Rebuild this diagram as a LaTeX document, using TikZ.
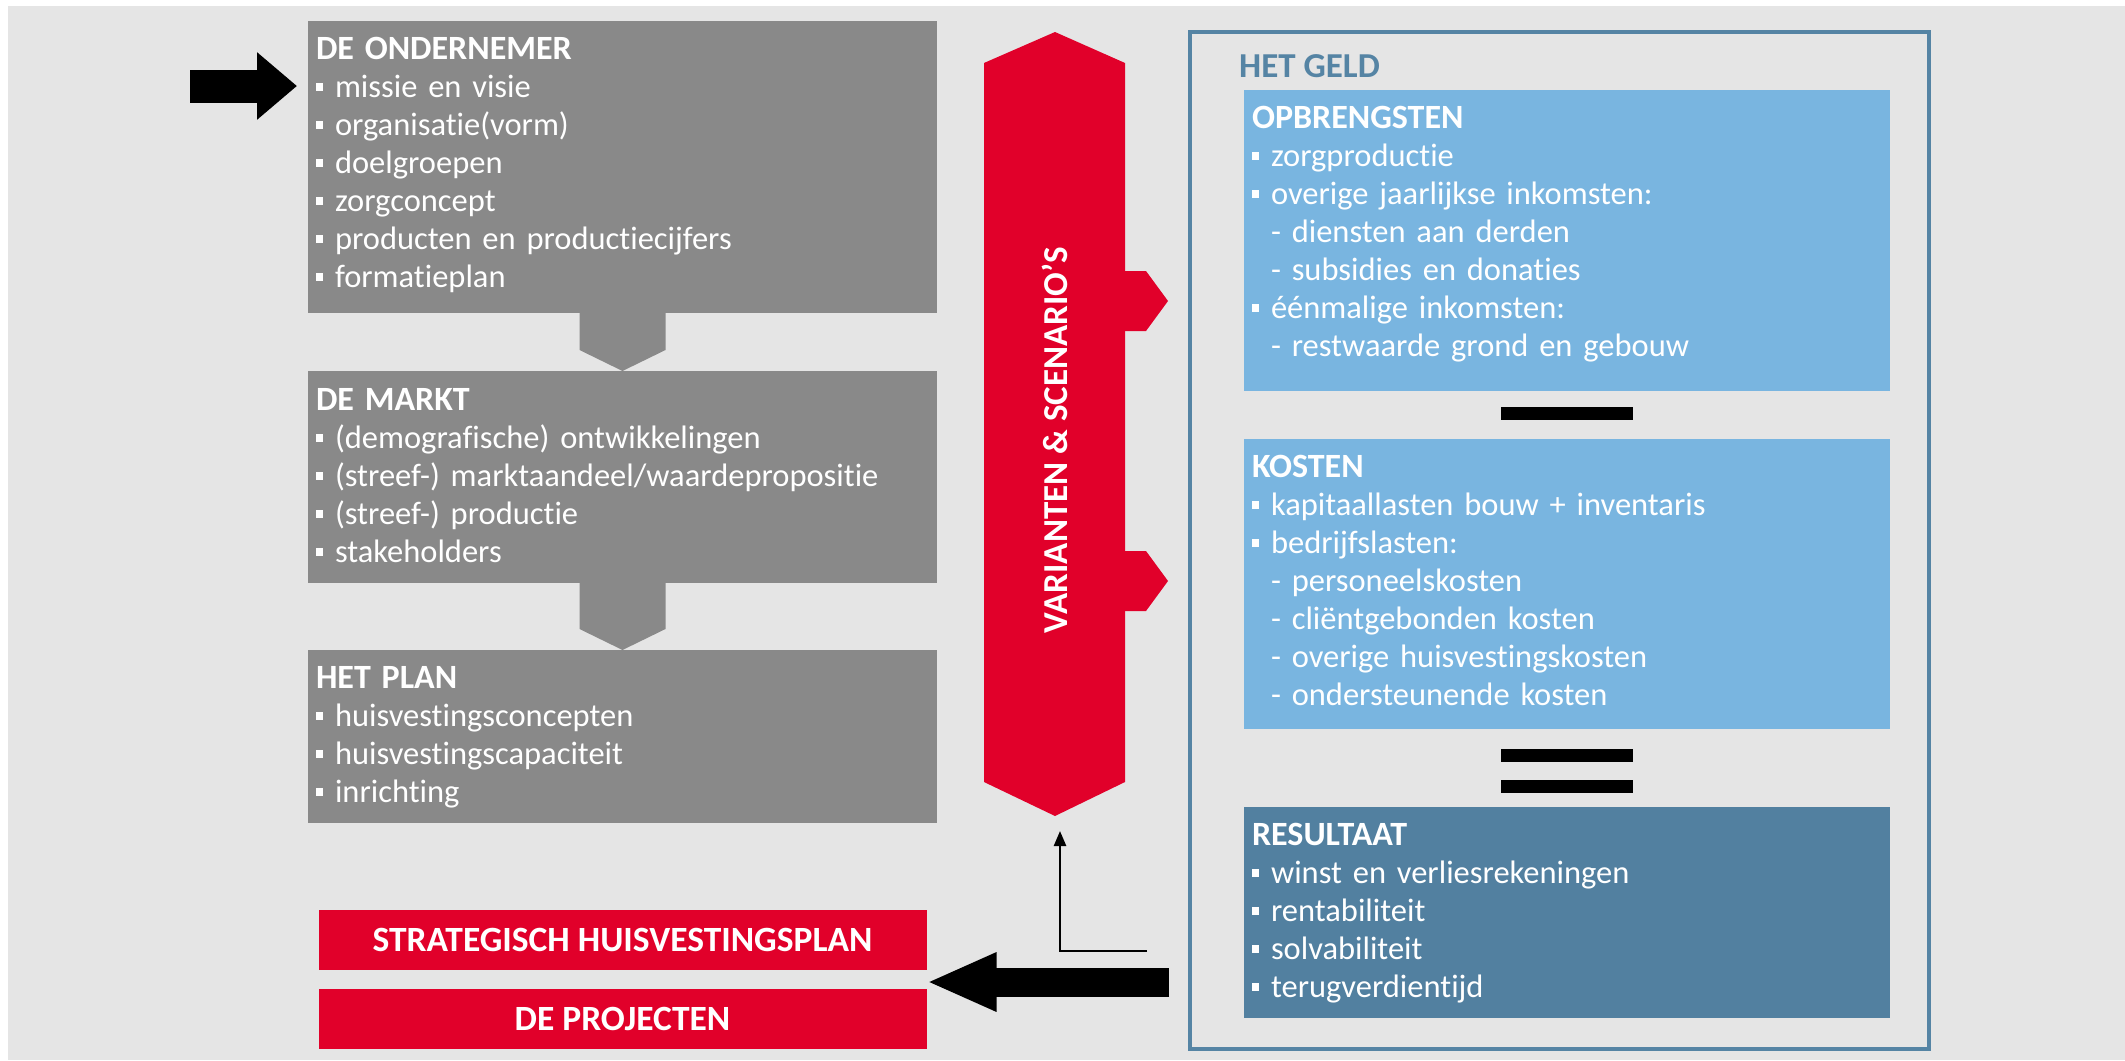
\documentclass[tikz,border=0pt]{standalone}
\usepackage{fontspec}
\setmainfont{Carlito}[Ligatures=NoCommon]
\usepackage{tikz}
\usetikzlibrary{arrows.meta,positioning}
\definecolor{SheetGray}{HTML}{E5E5E5}
\definecolor{BlockGray}{HTML}{898989}
\definecolor{PlanRed}{HTML}{E1002A}
\definecolor{MoneyBlue}{HTML}{79B5E0}
\definecolor{ResultBlue}{HTML}{5280A0}
\definecolor{FrameBlue}{HTML}{5584A4}

\newcommand{\itm}{\rule[6pt]{7pt}{8pt}\hspace{12pt}}
\newcommand{\subitm}{\hspace*{19pt}-\ }
\newcommand{\blockhead}[2]{\noindent\rule{0pt}{#1pt}{\fontsize{34}{38}\selectfont\bfseries #2}}
\newcommand{\blockfoot}[1]{\rule[-#1pt]{0pt}{#1pt}}

\begin{document}
\begin{tikzpicture}[x=1pt,y=-1pt,
    block/.style={anchor=north west,inner xsep=8pt,inner ysep=0pt,outer sep=0pt,
      align=left,text=white,font=\fontsize{32.5}{38}\selectfont},
    greyblock/.style={block,fill=BlockGray,text width=613pt},
    moneyblock/.style={block,fill=MoneyBlue,text width=630pt},
    redbar/.style={anchor=north west,fill=PlanRed,text=white,inner sep=0pt,outer sep=0pt,
      minimum width=608pt,minimum height=60pt,font=\bfseries\fontsize{35.5}{38}\selectfont},
    sign/.style={fill=black,minimum width=132pt,minimum height=13pt,inner sep=0pt,outer sep=0pt}]
    \useasboundingbox (0,0) rectangle (2125,1060);
    \fill[white] (0,0) rectangle (2125,1060);
    \fill[SheetGray] (8,6) rectangle (2125,1060);

    % left column
    \node[greyblock] (ondernemer) at (308,21) {\blockhead{38}{DE ONDERNEMER}\\
      \itm missie en visie\\
      \itm organisatie(vorm)\\
      \itm doelgroepen\\
      \itm zorgconcept\\
      \itm producten en productiecijfers\\
      \itm formatieplan\blockfoot{26}};
    \node[greyblock,below=58pt of ondernemer] (markt) {\blockhead{39}{DE MARKT}\\
      \itm (demografische) ontwikkelingen\\
      \itm (streef-) marktaandeel/waardepropositie\\
      \itm (streef-) productie\\
      \itm stakeholders\blockfoot{21}};
    \node[greyblock,below=67pt of markt] (plan) {\blockhead{38}{HET PLAN}\\
      \itm huisvestingsconcepten\\
      \itm huisvestingscapaciteit\\
      \itm inrichting\blockfoot{21}};
    \foreach \a/\b in {ondernemer/markt,markt/plan}
      \fill[BlockGray] ([xshift=-43pt]\a.south) -- ([xshift=-43pt,yshift=21pt]\b.north)
        -- (\b.north) -- ([xshift=43pt,yshift=21pt]\b.north) -- ([xshift=43pt]\a.south) -- cycle;

    \node[redbar,below=87pt of plan] (strat) {STRATEGISCH HUISVESTINGSPLAN};
    \node[redbar,below=19pt of strat] (proj) {DE PROJECTEN};

    % varianten arrow
    \fill[PlanRed] (1055,32) -- (1125,63) -- (1125,782) -- (1055,816) -- (984,782) -- (984,63) -- cycle;
    \foreach \t in {271,551}
      \fill[PlanRed] (1124,\t) -- (1146,\t) -- (1168,\t+30) -- (1146,\t+60) -- (1124,\t+60) -- cycle;
    \coordinate (scenbot) at (1055,816);
    \node[rotate=90,text=white,font=\bfseries\fontsize{35}{40}\selectfont] (scen) at (1055,440)
      {VARIANTEN \& SCENARIO’S};

    % het geld
    \node[draw=FrameBlue,line width=4pt,anchor=north west,minimum width=739pt,minimum height=1017pt,
      inner sep=0pt,outer sep=0pt] (geld) at (1190,32) {};
    \node[anchor=base west,inner sep=0pt,text=FrameBlue,font=\bfseries\fontsize{35}{38}\selectfont]
      (geldtitle) at (1239,77) {HET GELD};
    \node[moneyblock] (opbr) at (1244,90) {\blockhead{38}{OPBRENGSTEN}\\
      \itm zorgproductie\\
      \itm overige jaarlijkse inkomsten:\\
      \subitm diensten aan derden\\
      \subitm subsidies en donaties\\
      \itm éénmalige inkomsten:\\
      \subitm restwaarde grond en gebouw\blockfoot{35}};
    \node[sign,below=16pt of opbr] (minus) {};
    \node[moneyblock,below=19pt of minus] (kosten) {\blockhead{38}{KOSTEN}\\
      \itm kapitaallasten bouw + inventaris\\
      \itm bedrijfslasten:\\
      \subitm personeelskosten\\
      \subitm cliëntgebonden kosten\\
      \subitm overige huisvestingskosten\\
      \subitm ondersteunende kosten\blockfoot{24}};
    \node[sign,below=20pt of kosten] (eqtop) {};
    \node[sign,below=18pt of eqtop] (eqbot) {};
    \node[moneyblock,fill=ResultBlue,below=14pt of eqbot] (result) {\blockhead{38}{RESULTAAT}\\
      \itm winst en verliesrekeningen\\
      \itm rentabiliteit\\
      \itm solvabiliteit\\
      \itm terugverdientijd\blockfoot{21}};

    % arrows
    \coordinate (entry) at (190,86);
    \draw[line width=33pt,shorten >=11pt,-{Triangle[length=40pt,width=65pt]}] (entry) -- (entry -| ondernemer.west);
    \coordinate (back) at (1169,982);
    \draw[line width=29pt,-{Triangle[length=70pt,width=54pt]}] (back) -- (back -| strat.east);
    \coordinate (loop) at (1147,951);
    \draw[line width=2.5pt,-{Triangle[length=15pt,width=12pt]}] (loop) -| ([xshift=5pt,yshift=-15pt]scenbot);
\end{tikzpicture}
\end{document}
